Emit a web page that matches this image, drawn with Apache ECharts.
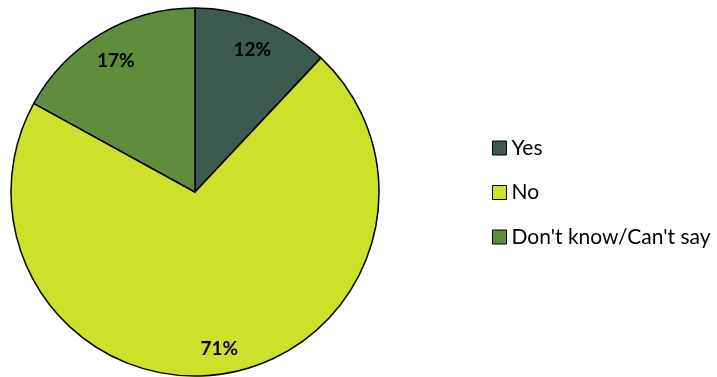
<!DOCTYPE html>
<html>
<head>
<meta charset="utf-8">
<script src="https://cdn.jsdelivr.net/npm/echarts@6/dist/echarts.min.js"></script>
<style>
  html, body { margin: 0; padding: 0; background: #fff; }
  #chart { width: 717px; height: 377px; }
</style>
</head>
<body>
<div id="chart"></div>
<script>
// Survey answers and their shares (%)
const categories = ["Yes", "No", "Don't know/Can't say"];
const shares = [12, 71, 17];
const colors = ["#3D5A4F", "#CDE12A", "#5F8D3C"];

const pieData = categories.map((name, i) => ({
  name: name,
  value: shares[i],
  itemStyle: { color: colors[i] }
}));

const center = [195, 192];
const outer = 184;
const font = 'Lato, "Open Sans", "Liberation Sans", sans-serif';

const chart = echarts.init(document.getElementById('chart'), null, { renderer: 'canvas' });
chart.setOption({
  animation: false,
  backgroundColor: '#ffffff',
  legend: {
    orient: 'vertical',
    left: 487,
    top: 132,
    icon: 'rect',
    itemWidth: 14,
    itemHeight: 14,
    itemGap: 22.5,
    data: categories,
    itemStyle: { borderColor: '#000', borderWidth: 1 },
    textStyle: {
      fontFamily: font,
      fontSize: 21,
      lineHeight: 22,
      color: '#000'
    }
  },
  series: [
    {
      type: 'pie',
      center: center,
      radius: [0, outer],
      startAngle: 90,
      clockwise: true,
      silent: true,
      data: pieData,
      itemStyle: { borderColor: '#000', borderWidth: 1.5 },
      label: { show: false },
      labelLine: { show: false }
    },
    {
      // transparent ring used only to place the percentage labels near the rim
      type: 'pie',
      center: center,
      radius: [outer * 0.66, outer],
      startAngle: 90,
      clockwise: true,
      silent: true,
      data: categories.map((name, i) => ({ name: name, value: shares[i] })),
      itemStyle: { color: 'rgba(0,0,0,0)', borderWidth: 0 },
      label: {
        show: true,
        position: 'inside',
        formatter: '{c}%',
        offset: [0, 3],
        fontFamily: font,
        fontWeight: 'bold',
        fontSize: 19,
        color: '#000'
      },
      labelLine: { show: false },
      legendHoverLink: false
    }
  ]
});
</script>
</body>
</html>
